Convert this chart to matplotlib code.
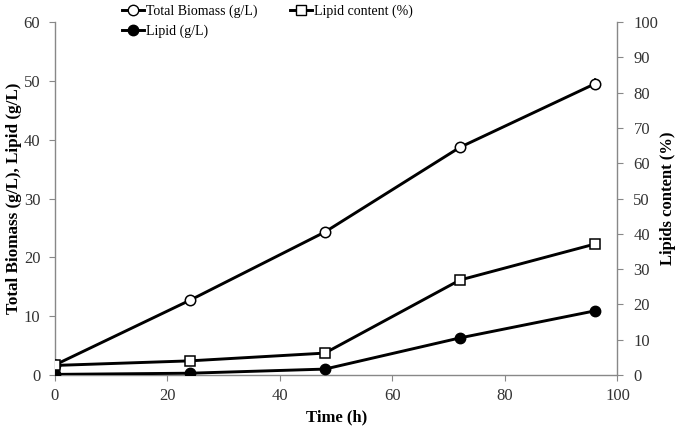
import matplotlib
matplotlib.use("Agg")
import matplotlib.pyplot as plt
from matplotlib.lines import Line2D

plt.rcParams['font.family'] = ['Liberation Serif', 'DejaVu Serif']

time_h = [0, 24, 48, 72, 96]
total_biomass = [1.7, 12.7, 24.3, 38.7, 49.5]
biomass_err = [0.6, 0.8, 0.7, 0.8, 1.0]
lipid_gl = [0.1, 0.3, 1.0, 6.3, 10.9]
lipid_content = [2.7, 4.0, 6.2, 26.9, 37.1]

fig = plt.figure(figsize=(6.77, 4.32), dpi=100)
ax = fig.add_axes([0.081, 0.132, 0.831, 0.817])
ax2 = ax.twinx()

lw = 2.1
ms = 7.5
ax.errorbar(time_h, total_biomass, yerr=biomass_err, color='black', lw=lw,
            marker='o', ms=ms, mfc='white', mec='black', mew=1.1,
            ecolor='black', elinewidth=1.1, capsize=0, zorder=3)
ax.plot(time_h, lipid_gl, color='black', lw=lw, marker='o', ms=ms,
        mfc='black', mec='black', zorder=3)
ax2.plot(time_h, lipid_content, color='black', lw=lw, marker='s', ms=ms,
         mfc='white', mec='black', mew=1.1, zorder=3)

ax.set_xlim(0, 100)
ax.set_ylim(0, 60)
ax2.set_ylim(0, 100)
ax.set_xticks(range(0, 101, 20))
ax.set_yticks(range(0, 61, 10))
ax2.set_yticks(range(0, 101, 10))

for a in (ax, ax2):
    a.spines['top'].set_visible(False)
    for s in ('left', 'right', 'bottom'):
        a.spines[s].set_color('#888888')
        a.spines[s].set_linewidth(1.0)
    a.tick_params(colors='#888888', labelcolor='#333333', labelsize=12, length=4.5)
ax.tick_params(axis='y', pad=6)
ax.tick_params(axis='x', pad=5)
ax2.tick_params(axis='y', pad=7)
ax.spines['right'].set_visible(False)
ax2.spines['left'].set_visible(False)
ax2.spines['bottom'].set_visible(False)

ax.set_xlabel('Time (h)', fontsize=12, fontweight='bold', labelpad=4)
ax.set_ylabel('Total Biomass (g/L), Lipid (g/L)', fontsize=12.3, fontweight='bold', labelpad=1)
ax2.set_ylabel('Lipids content (%)', fontsize=12, fontweight='bold', labelpad=1)

handles = [
    Line2D([], [], color='black', lw=lw, marker='o', ms=ms, mfc='white', mec='black'),
    Line2D([], [], color='black', lw=lw, marker='o', ms=ms, mfc='black', mec='black'),
    Line2D([], [], color='black', lw=lw, marker='s', ms=ms, mfc='white', mec='black'),
]
labels = ['Total Biomass (g/L)', 'Lipid (g/L)', 'Lipid content (%)']
fig.legend(handles, labels, loc='upper left', bbox_to_anchor=(0.166, 1.012), ncol=2,
           frameon=False, fontsize=10, handlelength=1.6, handletextpad=0.15,
           columnspacing=2.3, labelspacing=0.5, borderpad=0.2)

fig.savefig('out.png', dpi=100)
